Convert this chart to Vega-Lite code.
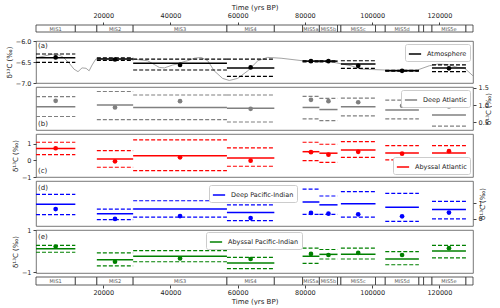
{
"$schema": "https://vega.github.io/schema/vega-lite/v6.json",
"background": "white",
"padding": {"left": 4, "top": 3, "right": 0, "bottom": 0},
"spacing": 4,
"bounds": "flush",
"resolve": {"scale": {"color": "independent"}, "legend": {"color": "independent"}},
"config": {
  "font": "DejaVu Sans",
  "view": {"stroke": "#555", "strokeWidth": 0.8},
  "axis": {"labelFont": "DejaVu Sans", "titleFont": "DejaVu Sans", "labelFontSize": 6.5, "titleFontSize": 7, "titleFontWeight": "normal", "labelColor": "#222", "titleColor": "#222", "tickColor": "#444", "tickSize": 3, "domain": false, "grid": false, "labelPadding": 2, "titlePadding": 3},
  "legend": {"labelFont": "DejaVu Sans", "labelFontSize": 6.5, "labelColor": "#222", "symbolType": "stroke", "symbolStrokeWidth": 1.5, "symbolSize": 150, "strokeColor": "#ccc", "fillColor": "white", "padding": 3, "cornerRadius": 2, "offset": 3, "labelOffset": 5}
},
"datasets": {
  "band": [
    {"x0":0,"x1":11700,"xm":5850,"label":"MIS1"},
    {"x0":11700,"x1":18100,"xm":14900,"label":""},
    {"x0":18100,"x1":28900,"xm":23500,"label":"MIS2"},
    {"x0":28900,"x1":56800,"xm":42850,"label":"MIS3"},
    {"x0":56800,"x1":70900,"xm":63850,"label":"MIS4"},
    {"x0":70900,"x1":79300,"xm":75100,"label":""},
    {"x0":79300,"x1":84300,"xm":81800,"label":"MIS5a"},
    {"x0":84300,"x1":89700,"xm":87000,"label":"MIS5b"},
    {"x0":89700,"x1":90700,"xm":90200,"label":""},
    {"x0":90700,"x1":101000,"xm":95850,"label":"MIS5c"},
    {"x0":101000,"x1":103900,"xm":102450,"label":""},
    {"x0":103900,"x1":113900,"xm":108900,"label":"MIS5d"},
    {"x0":113900,"x1":115300,"xm":114600,"label":""},
    {"x0":115300,"x1":117800,"xm":116550,"label":""},
    {"x0":117800,"x1":127900,"xm":122850,"label":"MIS5e"},
    {"x0":127900,"x1":130000,"xm":128950,"label":""}
  ],
  "curve": [
    {"t":0,"v":-6.40},{"t":2400,"v":-6.36},{"t":4500,"v":-6.32},{"t":6200,"v":-6.31},{"t":8000,"v":-6.38},
    {"t":9800,"v":-6.52},{"t":11300,"v":-6.67},{"t":12500,"v":-6.73},{"t":13700,"v":-6.64},{"t":14900,"v":-6.65},
    {"t":15800,"v":-6.71},{"t":16700,"v":-6.57},{"t":17800,"v":-6.43},{"t":19300,"v":-6.42},{"t":24000,"v":-6.43},
    {"t":28900,"v":-6.43},{"t":33200,"v":-6.47},{"t":36700,"v":-6.63},{"t":38200,"v":-6.64},{"t":40700,"v":-6.57},
    {"t":42000,"v":-6.55},{"t":44000,"v":-6.49},{"t":45100,"v":-6.47},{"t":47100,"v":-6.41},{"t":49100,"v":-6.39},
    {"t":51100,"v":-6.47},{"t":53000,"v":-6.71},{"t":55500,"v":-6.89},{"t":57500,"v":-6.94},{"t":60000,"v":-6.89},
    {"t":63000,"v":-6.71},{"t":66000,"v":-6.47},{"t":68900,"v":-6.39},{"t":72900,"v":-6.41},{"t":79300,"v":-6.47},
    {"t":86800,"v":-6.48},{"t":91200,"v":-6.55},{"t":93700,"v":-6.59},{"t":96700,"v":-6.67},{"t":103600,"v":-6.69},
    {"t":113500,"v":-6.69},{"t":117000,"v":-6.59},{"t":119500,"v":-6.55},{"t":122500,"v":-6.56},{"t":125500,"v":-6.63},
    {"t":127400,"v":-6.64},{"t":130000,"v":-6.83}
  ],
  "segA": [
    {"mis":"MIS1","x0":0,"x1":11700,"xm":5850,"m":-6.40,"d":-6.39,"lo":-6.51,"hi":-6.31},
    {"mis":"MIS2","x0":18100,"x1":28900,"xm":23500,"m":-6.43,"d":-6.44,"lo":-6.46,"hi":-6.40},
    {"mis":"MIS3","x0":28900,"x1":56800,"xm":42850,"m":-6.53,"d":-6.57,"lo":-6.69,"hi":-6.43},
    {"mis":"MIS4","x0":56800,"x1":70900,"xm":63850,"m":-6.64,"d":-6.63,"lo":-6.84,"hi":-6.43},
    {"mis":"MIS5a","x0":79300,"x1":84300,"xm":81800,"m":-6.48,"d":-6.48,"lo":-6.50,"hi":-6.47},
    {"mis":"MIS5b","x0":84300,"x1":89700,"xm":87000,"m":-6.48,"d":-6.48,"lo":-6.50,"hi":-6.47},
    {"mis":"MIS5c","x0":90700,"x1":101000,"xm":95850,"m":-6.55,"d":-6.59,"lo":-6.65,"hi":-6.47},
    {"mis":"MIS5d","x0":103900,"x1":113900,"xm":108900,"m":-6.71,"d":-6.71,"lo":-6.72,"hi":-6.70},
    {"mis":"MIS5e","x0":117800,"x1":127900,"xm":122850,"m":-6.64,"d":-6.65,"lo":-6.73,"hi":-6.57}
  ],
  "segB": [
    {"mis":"MIS1","x0":0,"x1":11700,"xm":5850,"m":0.95,"d":1.12,"lo":0.67,"hi":1.24},
    {"mis":"MIS2","x0":18100,"x1":28900,"xm":23500,"m":1.00,"d":0.93,"lo":0.58,"hi":1.39},
    {"mis":"MIS3","x0":28900,"x1":56800,"xm":42850,"m":0.93,"d":1.11,"lo":0.58,"hi":1.29},
    {"mis":"MIS4","x0":56800,"x1":70900,"xm":63850,"m":0.91,"d":0.89,"lo":0.51,"hi":1.29},
    {"mis":"MIS5a","x0":79300,"x1":84300,"xm":81800,"m":0.93,"d":1.15,"lo":0.60,"hi":1.25},
    {"mis":"MIS5b","x0":84300,"x1":89700,"xm":87000,"m":0.87,"d":1.11,"lo":0.55,"hi":1.19},
    {"mis":"MIS5c","x0":90700,"x1":101000,"xm":95850,"m":0.95,"d":1.08,"lo":0.69,"hi":1.20},
    {"mis":"MIS5d","x0":103900,"x1":113900,"xm":108900,"m":0.86,"d":0.98,"lo":0.60,"hi":1.14},
    {"mis":"MIS5e","x0":117800,"x1":127900,"xm":122850,"m":0.71,"d":0.96,"lo":0.39,"hi":1.03}
  ],
  "segC": [
    {"mis":"MIS1","x0":0,"x1":11700,"xm":5850,"m":0.72,"d":0.74,"lo":0.35,"hi":1.10},
    {"mis":"MIS2","x0":18100,"x1":28900,"xm":23500,"m":0.09,"d":-0.05,"lo":-0.41,"hi":0.59},
    {"mis":"MIS3","x0":28900,"x1":56800,"xm":42850,"m":0.29,"d":0.19,"lo":-0.62,"hi":1.24},
    {"mis":"MIS4","x0":56800,"x1":70900,"xm":63850,"m":0.15,"d":-0.01,"lo":-0.35,"hi":0.76},
    {"mis":"MIS5a","x0":79300,"x1":84300,"xm":81800,"m":0.53,"d":0.50,"lo":-0.01,"hi":1.10},
    {"mis":"MIS5b","x0":84300,"x1":89700,"xm":87000,"m":0.44,"d":0.35,"lo":-0.11,"hi":0.98},
    {"mis":"MIS5c","x0":90700,"x1":101000,"xm":95850,"m":0.64,"d":0.52,"lo":0.19,"hi":1.14},
    {"mis":"MIS5d","x0":103900,"x1":113900,"xm":108900,"m":0.45,"d":0.41,"lo":0.03,"hi":0.90},
    {"mis":"MIS5e","x0":117800,"x1":127900,"xm":122850,"m":0.45,"d":0.56,"lo":0.15,"hi":0.90}
  ],
  "segD": [
    {"mis":"MIS1","x0":0,"x1":11700,"xm":5850,"m":0.93,"d":0.62,"lo":0.27,"hi":1.55},
    {"mis":"MIS2","x0":18100,"x1":28900,"xm":23500,"m":0.33,"d":0.00,"lo":-0.04,"hi":0.62},
    {"mis":"MIS3","x0":28900,"x1":56800,"xm":42850,"m":0.62,"d":0.18,"lo":0.11,"hi":1.15},
    {"mis":"MIS4","x0":56800,"x1":70900,"xm":63850,"m":0.40,"d":0.05,"lo":-0.11,"hi":0.89},
    {"mis":"MIS5a","x0":79300,"x1":84300,"xm":81800,"m":1.07,"d":0.38,"lo":0.29,"hi":1.89},
    {"mis":"MIS5b","x0":84300,"x1":89700,"xm":87000,"m":0.89,"d":0.33,"lo":0.29,"hi":1.45},
    {"mis":"MIS5c","x0":90700,"x1":101000,"xm":95850,"m":0.96,"d":0.29,"lo":0.11,"hi":1.73},
    {"mis":"MIS5d","x0":103900,"x1":113900,"xm":108900,"m":0.73,"d":0.16,"lo":-0.16,"hi":1.62},
    {"mis":"MIS5e","x0":117800,"x1":127900,"xm":122850,"m":0.60,"d":0.40,"lo":0.00,"hi":1.11}
  ],
  "segE": [
    {"mis":"MIS1","x0":0,"x1":11700,"xm":5850,"m":0.11,"d":0.22,"lo":-0.05,"hi":0.27},
    {"mis":"MIS2","x0":18100,"x1":28900,"xm":23500,"m":-0.40,"d":-0.50,"lo":-0.69,"hi":-0.08},
    {"mis":"MIS3","x0":28900,"x1":56800,"xm":42850,"m":-0.24,"d":-0.34,"lo":-0.50,"hi":0.03},
    {"mis":"MIS4","x0":56800,"x1":70900,"xm":63850,"m":-0.56,"d":-0.37,"lo":-0.82,"hi":-0.29},
    {"mis":"MIS5a","x0":79300,"x1":84300,"xm":81800,"m":-0.24,"d":-0.13,"lo":-0.58,"hi":0.14},
    {"mis":"MIS5b","x0":84300,"x1":89700,"xm":87000,"m":-0.15,"d":-0.18,"lo":-0.37,"hi":0.08},
    {"mis":"MIS5c","x0":90700,"x1":101000,"xm":95850,"m":-0.15,"d":-0.08,"lo":-0.37,"hi":0.14},
    {"mis":"MIS5d","x0":103900,"x1":113900,"xm":108900,"m":-0.37,"d":-0.18,"lo":-0.64,"hi":-0.02},
    {"mis":"MIS5e","x0":117800,"x1":127900,"xm":122850,"m":0.01,"d":0.14,"lo":-0.32,"hi":0.27}
  ]
},
"vconcat": [
  {
    "width": 437, "height": 12,
    "view": {"stroke": null},
    "data": {"name": "band"},
    "layer": [
      {"mark": {"type": "rect", "fill": "white", "stroke": "#333", "strokeWidth": 0.8},
       "encoding": {
         "x": {"field": "x0", "type": "quantitative", "scale": {"domain": [0,130000], "nice": false}, "axis": {"orient": "top", "title": "Time (yrs BP)", "values": [20000,40000,60000,80000,100000,120000], "format": "d", "labelPadding": 4, "titlePadding": 2}},
         "x2": {"field": "x1"},
         "y": {"datum": 12, "type": "quantitative", "scale": {"domain": [0,12], "nice": false}, "axis": null},
         "y2": {"datum": 5}}},
      {"mark": {"type": "text", "fontSize": 5, "color": "#555"},
       "encoding": {
         "x": {"field": "xm", "type": "quantitative", "scale": {"domain": [0,130000], "nice": false}, "axis": {"orient": "top", "title": "Time (yrs BP)", "values": [20000,40000,60000,80000,100000,120000], "format": "d", "labelPadding": 4, "titlePadding": 2}},
         "y": {"datum": 8.5, "type": "quantitative", "scale": {"domain": [0,12], "nice": false}, "axis": null},
         "text": {"field": "label"}}}
    ]
  },
  {
    "width": 437, "height": 42,
    "layer": [
      {"data": {"name": "curve"}, "mark": {"type": "line", "color": "#9a9a9a", "strokeWidth": 0.9},
       "encoding": {"x": {"field": "t", "type": "quantitative", "scale": {"domain": [0,130000], "nice": false}, "axis": null},
                    "y": {"field": "v", "type": "quantitative", "scale": {"domain": [-7,-6], "nice": false, "zero": false}, "axis": {"orient": "left", "title": "δ¹³C (‰)", "values": [-7,-6.5,-6], "format": ".1f"}}}},
      {"data": {"name": "segA"}, "mark": {"type": "rule", "color": "black", "strokeWidth": 1.2, "strokeDash": [4,2]},
       "encoding": {"x": {"field": "x0", "type": "quantitative", "scale": {"domain": [0,130000], "nice": false}, "axis": null}, "x2": {"field": "x1"},
                    "y": {"field": "hi", "type": "quantitative", "scale": {"domain": [-7,-6], "nice": false, "zero": false}, "axis": {"orient": "left", "title": "δ¹³C (‰)", "values": [-7,-6.5,-6], "format": ".1f"}}}},
      {"data": {"name": "segA"}, "mark": {"type": "rule", "color": "black", "strokeWidth": 1.2, "strokeDash": [4,2]},
       "encoding": {"x": {"field": "x0", "type": "quantitative", "scale": {"domain": [0,130000], "nice": false}, "axis": null}, "x2": {"field": "x1"},
                    "y": {"field": "lo", "type": "quantitative", "scale": {"domain": [-7,-6], "nice": false, "zero": false}, "axis": {"orient": "left", "title": "δ¹³C (‰)", "values": [-7,-6.5,-6], "format": ".1f"}}}},
      {"data": {"name": "segA"}, "mark": {"type": "rule", "strokeWidth": 1.5},
       "encoding": {"x": {"field": "x0", "type": "quantitative", "scale": {"domain": [0,130000], "nice": false}, "axis": null}, "x2": {"field": "x1"},
                    "y": {"field": "m", "type": "quantitative", "scale": {"domain": [-7,-6], "nice": false, "zero": false}, "axis": {"orient": "left", "title": "δ¹³C (‰)", "values": [-7,-6.5,-6], "format": ".1f"}},
                    "color": {"datum": "Atmosphere", "type": "nominal", "scale": {"range": ["black"]}, "legend": {"title": null, "orient": "top-right"}}}},
      {"data": {"name": "segA"}, "mark": {"type": "circle", "color": "black", "size": 22, "opacity": 1},
       "encoding": {"x": {"field": "xm", "type": "quantitative", "scale": {"domain": [0,130000], "nice": false}, "axis": null},
                    "y": {"field": "d", "type": "quantitative", "scale": {"domain": [-7,-6], "nice": false, "zero": false}, "axis": {"orient": "left", "title": "δ¹³C (‰)", "values": [-7,-6.5,-6], "format": ".1f"}}}},
      {"data": {"values": [{}]}, "mark": {"type": "text", "text": "(a)", "align": "left", "baseline": "top", "fontSize": 7, "color": "#222"},
       "encoding": {"x": {"datum": 600, "type": "quantitative", "scale": {"domain": [0,130000], "nice": false}, "axis": null},
                    "y": {"datum": -6.02, "type": "quantitative", "scale": {"domain": [-7,-6], "nice": false, "zero": false}, "axis": {"orient": "left", "title": "δ¹³C (‰)", "values": [-7,-6.5,-6], "format": ".1f"}}}}
    ]
  },
  {
    "width": 437, "height": 43,
    "layer": [
      {"data": {"name": "segB"}, "mark": {"type": "rule", "color": "gray", "strokeWidth": 1.2, "strokeDash": [4,2]},
       "encoding": {"x": {"field": "x0", "type": "quantitative", "scale": {"domain": [0,130000], "nice": false}, "axis": null}, "x2": {"field": "x1"},
                    "y": {"field": "hi", "type": "quantitative", "scale": {"domain": [0.28,1.52], "nice": false, "zero": false}, "axis": {"orient": "right", "title": "δ¹³C (‰)", "titleAngle": 270, "values": [0.5,1,1.5], "format": ".1f"}}}},
      {"data": {"name": "segB"}, "mark": {"type": "rule", "color": "gray", "strokeWidth": 1.2, "strokeDash": [4,2]},
       "encoding": {"x": {"field": "x0", "type": "quantitative", "scale": {"domain": [0,130000], "nice": false}, "axis": null}, "x2": {"field": "x1"},
                    "y": {"field": "lo", "type": "quantitative", "scale": {"domain": [0.28,1.52], "nice": false, "zero": false}, "axis": {"orient": "right", "title": "δ¹³C (‰)", "titleAngle": 270, "values": [0.5,1,1.5], "format": ".1f"}}}},
      {"data": {"name": "segB"}, "mark": {"type": "rule", "strokeWidth": 1.5},
       "encoding": {"x": {"field": "x0", "type": "quantitative", "scale": {"domain": [0,130000], "nice": false}, "axis": null}, "x2": {"field": "x1"},
                    "y": {"field": "m", "type": "quantitative", "scale": {"domain": [0.28,1.52], "nice": false, "zero": false}, "axis": {"orient": "right", "title": "δ¹³C (‰)", "titleAngle": 270, "values": [0.5,1,1.5], "format": ".1f"}},
                    "color": {"datum": "Deep Atlantic", "type": "nominal", "scale": {"range": ["gray"]}, "legend": {"title": null, "orient": "top-right"}}}},
      {"data": {"name": "segB"}, "mark": {"type": "circle", "color": "gray", "size": 22, "opacity": 1},
       "encoding": {"x": {"field": "xm", "type": "quantitative", "scale": {"domain": [0,130000], "nice": false}, "axis": null},
                    "y": {"field": "d", "type": "quantitative", "scale": {"domain": [0.28,1.52], "nice": false, "zero": false}, "axis": {"orient": "right", "title": "δ¹³C (‰)", "titleAngle": 270, "values": [0.5,1,1.5], "format": ".1f"}}}},
      {"data": {"values": [{}]}, "mark": {"type": "text", "text": "(b)", "align": "left", "baseline": "bottom", "fontSize": 7, "color": "#222"},
       "encoding": {"x": {"datum": 600, "type": "quantitative", "scale": {"domain": [0,130000], "nice": false}, "axis": null},
                    "y": {"datum": 0.37, "type": "quantitative", "scale": {"domain": [0.28,1.52], "nice": false, "zero": false}, "axis": {"orient": "right", "title": "δ¹³C (‰)", "titleAngle": 270, "values": [0.5,1,1.5], "format": ".1f"}}}}
    ]
  },
  {
    "width": 437, "height": 43,
    "layer": [
      {"data": {"name": "segC"}, "mark": {"type": "rule", "color": "red", "strokeWidth": 1.2, "strokeDash": [4,2]},
       "encoding": {"x": {"field": "x0", "type": "quantitative", "scale": {"domain": [0,130000], "nice": false}, "axis": null}, "x2": {"field": "x1"},
                    "y": {"field": "hi", "type": "quantitative", "scale": {"domain": [-1,1.6], "nice": false, "zero": false}, "axis": {"orient": "left", "title": "δ¹³C (‰)", "values": [-1,0,1], "format": "d"}}}},
      {"data": {"name": "segC"}, "mark": {"type": "rule", "color": "red", "strokeWidth": 1.2, "strokeDash": [4,2]},
       "encoding": {"x": {"field": "x0", "type": "quantitative", "scale": {"domain": [0,130000], "nice": false}, "axis": null}, "x2": {"field": "x1"},
                    "y": {"field": "lo", "type": "quantitative", "scale": {"domain": [-1,1.6], "nice": false, "zero": false}, "axis": {"orient": "left", "title": "δ¹³C (‰)", "values": [-1,0,1], "format": "d"}}}},
      {"data": {"name": "segC"}, "mark": {"type": "rule", "strokeWidth": 1.5},
       "encoding": {"x": {"field": "x0", "type": "quantitative", "scale": {"domain": [0,130000], "nice": false}, "axis": null}, "x2": {"field": "x1"},
                    "y": {"field": "m", "type": "quantitative", "scale": {"domain": [-1,1.6], "nice": false, "zero": false}, "axis": {"orient": "left", "title": "δ¹³C (‰)", "values": [-1,0,1], "format": "d"}},
                    "color": {"datum": "Abyssal Atlantic", "type": "nominal", "scale": {"range": ["red"]}, "legend": {"title": null, "orient": "bottom-right"}}}},
      {"data": {"name": "segC"}, "mark": {"type": "circle", "color": "red", "size": 22, "opacity": 1},
       "encoding": {"x": {"field": "xm", "type": "quantitative", "scale": {"domain": [0,130000], "nice": false}, "axis": null},
                    "y": {"field": "d", "type": "quantitative", "scale": {"domain": [-1,1.6], "nice": false, "zero": false}, "axis": {"orient": "left", "title": "δ¹³C (‰)", "values": [-1,0,1], "format": "d"}}}},
      {"data": {"values": [{}]}, "mark": {"type": "text", "text": "(c)", "align": "left", "baseline": "bottom", "fontSize": 7, "color": "#222"},
       "encoding": {"x": {"datum": 600, "type": "quantitative", "scale": {"domain": [0,130000], "nice": false}, "axis": null},
                    "y": {"datum": -0.79, "type": "quantitative", "scale": {"domain": [-1,1.6], "nice": false, "zero": false}, "axis": {"orient": "left", "title": "δ¹³C (‰)", "values": [-1,0,1], "format": "d"}}}}
    ]
  },
  {
    "width": 437, "height": 45,
    "layer": [
      {"data": {"name": "segD"}, "mark": {"type": "rule", "color": "blue", "strokeWidth": 1.2, "strokeDash": [4,2]},
       "encoding": {"x": {"field": "x0", "type": "quantitative", "scale": {"domain": [0,130000], "nice": false}, "axis": null}, "x2": {"field": "x1"},
                    "y": {"field": "hi", "type": "quantitative", "scale": {"domain": [-0.45,2.4], "nice": false, "zero": false}, "axis": {"orient": "right", "title": "δ¹³C (‰)", "titleAngle": 270, "values": [0,1], "format": "d"}}}},
      {"data": {"name": "segD"}, "mark": {"type": "rule", "color": "blue", "strokeWidth": 1.2, "strokeDash": [4,2]},
       "encoding": {"x": {"field": "x0", "type": "quantitative", "scale": {"domain": [0,130000], "nice": false}, "axis": null}, "x2": {"field": "x1"},
                    "y": {"field": "lo", "type": "quantitative", "scale": {"domain": [-0.45,2.4], "nice": false, "zero": false}, "axis": {"orient": "right", "title": "δ¹³C (‰)", "titleAngle": 270, "values": [0,1], "format": "d"}}}},
      {"data": {"name": "segD"}, "mark": {"type": "rule", "strokeWidth": 1.5},
       "encoding": {"x": {"field": "x0", "type": "quantitative", "scale": {"domain": [0,130000], "nice": false}, "axis": null}, "x2": {"field": "x1"},
                    "y": {"field": "m", "type": "quantitative", "scale": {"domain": [-0.45,2.4], "nice": false, "zero": false}, "axis": {"orient": "right", "title": "δ¹³C (‰)", "titleAngle": 270, "values": [0,1], "format": "d"}},
                    "color": {"datum": "Deep Pacific-Indian", "type": "nominal", "scale": {"range": ["blue"]}, "legend": {"title": null, "orient": "none", "legendX": 173, "legendY": 4}}}},
      {"data": {"name": "segD"}, "mark": {"type": "circle", "color": "blue", "size": 22, "opacity": 1},
       "encoding": {"x": {"field": "xm", "type": "quantitative", "scale": {"domain": [0,130000], "nice": false}, "axis": null},
                    "y": {"field": "d", "type": "quantitative", "scale": {"domain": [-0.45,2.4], "nice": false, "zero": false}, "axis": {"orient": "right", "title": "δ¹³C (‰)", "titleAngle": 270, "values": [0,1], "format": "d"}}}},
      {"data": {"values": [{}]}, "mark": {"type": "text", "text": "(d)", "align": "left", "baseline": "top", "fontSize": 7, "color": "#222"},
       "encoding": {"x": {"datum": 600, "type": "quantitative", "scale": {"domain": [0,130000], "nice": false}, "axis": null},
                    "y": {"datum": 2.24, "type": "quantitative", "scale": {"domain": [-0.45,2.4], "nice": false, "zero": false}, "axis": {"orient": "right", "title": "δ¹³C (‰)", "titleAngle": 270, "values": [0,1], "format": "d"}}}}
    ]
  },
  {
    "width": 437, "height": 43,
    "layer": [
      {"data": {"name": "segE"}, "mark": {"type": "rule", "color": "green", "strokeWidth": 1.2, "strokeDash": [4,2]},
       "encoding": {"x": {"field": "x0", "type": "quantitative", "scale": {"domain": [0,130000], "nice": false}, "axis": null}, "x2": {"field": "x1"},
                    "y": {"field": "hi", "type": "quantitative", "scale": {"domain": [-1.03,1.0], "nice": false, "zero": false}, "axis": {"orient": "left", "title": "δ¹³C (‰)", "values": [-1,0,1], "format": "d"}}}},
      {"data": {"name": "segE"}, "mark": {"type": "rule", "color": "green", "strokeWidth": 1.2, "strokeDash": [4,2]},
       "encoding": {"x": {"field": "x0", "type": "quantitative", "scale": {"domain": [0,130000], "nice": false}, "axis": null}, "x2": {"field": "x1"},
                    "y": {"field": "lo", "type": "quantitative", "scale": {"domain": [-1.03,1.0], "nice": false, "zero": false}, "axis": {"orient": "left", "title": "δ¹³C (‰)", "values": [-1,0,1], "format": "d"}}}},
      {"data": {"name": "segE"}, "mark": {"type": "rule", "strokeWidth": 1.5},
       "encoding": {"x": {"field": "x0", "type": "quantitative", "scale": {"domain": [0,130000], "nice": false}, "axis": null}, "x2": {"field": "x1"},
                    "y": {"field": "m", "type": "quantitative", "scale": {"domain": [-1.03,1.0], "nice": false, "zero": false}, "axis": {"orient": "left", "title": "δ¹³C (‰)", "values": [-1,0,1], "format": "d"}},
                    "color": {"datum": "Abyssal Pacific-Indian", "type": "nominal", "scale": {"range": ["green"]}, "legend": {"title": null, "orient": "none", "legendX": 170, "legendY": 2}}}},
      {"data": {"name": "segE"}, "mark": {"type": "circle", "color": "green", "size": 22, "opacity": 1},
       "encoding": {"x": {"field": "xm", "type": "quantitative", "scale": {"domain": [0,130000], "nice": false}, "axis": null},
                    "y": {"field": "d", "type": "quantitative", "scale": {"domain": [-1.03,1.0], "nice": false, "zero": false}, "axis": {"orient": "left", "title": "δ¹³C (‰)", "values": [-1,0,1], "format": "d"}}}},
      {"data": {"values": [{}]}, "mark": {"type": "text", "text": "(e)", "align": "left", "baseline": "top", "fontSize": 7, "color": "#222"},
       "encoding": {"x": {"datum": 600, "type": "quantitative", "scale": {"domain": [0,130000], "nice": false}, "axis": null},
                    "y": {"datum": 0.88, "type": "quantitative", "scale": {"domain": [-1.03,1.0], "nice": false, "zero": false}, "axis": {"orient": "left", "title": "δ¹³C (‰)", "values": [-1,0,1], "format": "d"}}}}
    ]
  },
  {
    "width": 437, "height": 8,
    "view": {"stroke": null},
    "data": {"name": "band"},
    "layer": [
      {"mark": {"type": "rect", "fill": "white", "stroke": "#333", "strokeWidth": 0.8},
       "encoding": {
         "x": {"field": "x0", "type": "quantitative", "scale": {"domain": [0,130000], "nice": false}, "axis": {"orient": "bottom", "title": "Time (yrs BP)", "values": [20000,40000,60000,80000,100000,120000], "format": "d", "labelPadding": 1, "titlePadding": 2}},
         "x2": {"field": "x1"},
         "y": {"datum": 8, "type": "quantitative", "scale": {"domain": [0,8], "nice": false}, "axis": null},
         "y2": {"datum": 0}}},
      {"mark": {"type": "text", "fontSize": 5, "color": "#555"},
       "encoding": {
         "x": {"field": "xm", "type": "quantitative", "scale": {"domain": [0,130000], "nice": false}, "axis": {"orient": "bottom", "title": "Time (yrs BP)", "values": [20000,40000,60000,80000,100000,120000], "format": "d", "labelPadding": 1, "titlePadding": 2}},
         "y": {"datum": 4, "type": "quantitative", "scale": {"domain": [0,8], "nice": false}, "axis": null},
         "text": {"field": "label"}}}
    ]
  }
]
}
